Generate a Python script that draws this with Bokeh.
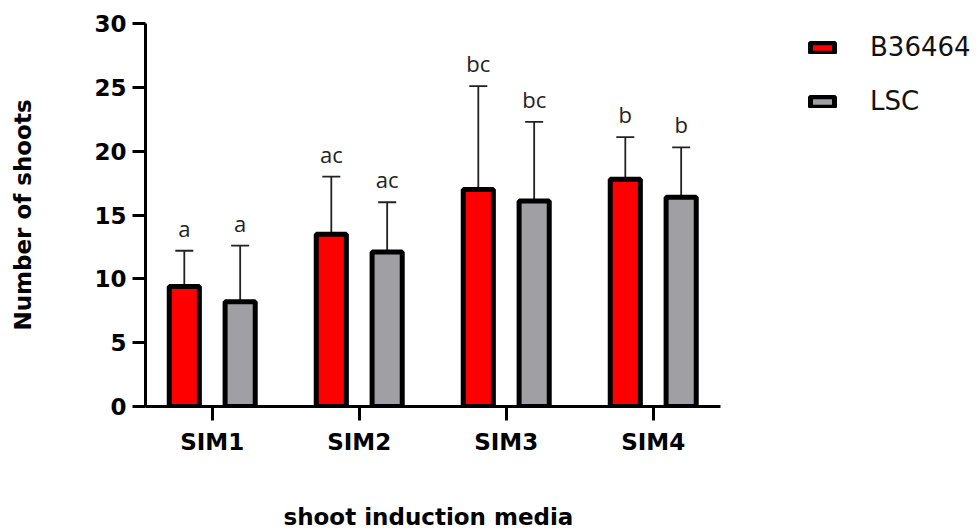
from bokeh.plotting import figure
from bokeh.models import (ColumnDataSource, Range1d, FixedTicker, Whisker, TeeHead,
                          Legend, LegendItem, Title)
from bokeh.core.properties import value
from bokeh.embed import file_html
from bokeh.resources import INLINE

# ---- data ----
categories = ["SIM1", "SIM2", "SIM3", "SIM4"]
b36464_mean = [9.4, 13.5, 17.0, 17.8]
b36464_sd = [2.8, 4.5, 8.1, 3.3]
lsc_mean = [8.2, 12.1, 16.1, 16.4]
lsc_sd = [4.4, 3.9, 6.2, 3.9]
b36464_letters = ["a", "ac", "bc", "b"]
lsc_letters = ["a", "ac", "bc", "b"]
y_ticks = [0, 5, 10, 15, 20, 25, 30]
x_title = "shoot induction media"
y_title = "Number of shoots"

BOLD = "DejaVu Sans"
off = 0.19
bw = 0.205
pos = list(range(1, len(categories) + 1))

def make_src(means, sds, letters, shift):
    xs = [p_ + shift for p_ in pos]
    return ColumnDataSource(dict(
        x=xs, mean=means, upper=[m + s for m, s in zip(means, sds)], letter=letters))

src_b = make_src(b36464_mean, b36464_sd, b36464_letters, -off)
src_l = make_src(lsc_mean, lsc_sd, lsc_letters, off)

W, H = 980, 531
x_start, x_axis_end = 0.546, 4.458
px_per_unit = 147.0
left, top, bottom_px = 145, 23, 407
x_end = x_start + (W - left) / px_per_unit

p = figure(width=W, height=H, output_backend="svg", toolbar_location=None,
           x_range=Range1d(x_start, x_end), y_range=Range1d(0, 30),
           min_border_left=left, min_border_right=0, min_border_top=top,
           min_border_bottom=H - bottom_px)
p.outline_line_color = None
p.xgrid.grid_line_color = None
p.ygrid.grid_line_color = None
p.background_fill_color = "white"
p.border_fill_color = "white"

for src in (src_b, src_l):
    w = Whisker(base="x", upper="upper", lower="mean", source=src,
                line_color="#222222", line_width=1.8, level="underlay",
                upper_head=TeeHead(size=18, line_color="#222222", line_width=1.8),
                lower_head=None)
    p.add_layout(w)

r_b = p.vbar(x="x", top="mean", width=bw, source=src_b, fill_color="#ff0000",
             line_color="black", line_width=5)
r_l = p.vbar(x="x", top="mean", width=bw, source=src_l, fill_color="#a0a0a4",
             line_color="black", line_width=5)

for src in (src_b, src_l):
    p.text(x="x", y="upper", text="letter", source=src, y_offset=-23,
           text_align="center", text_baseline="alphabetic",
           text_font=value("Open Sans"), text_font_size="22px", text_color="#222222")

# axes
xa = p.xaxis[0]
xa.bounds = (x_start, x_axis_end)
xa.ticker = FixedTicker(ticks=pos)
xa.major_label_overrides = {i + 1: c for i, c in enumerate(categories)}
xa.axis_line_width = 3
xa.major_tick_line_width = 3
xa.major_tick_out = 14
xa.major_tick_in = 0
xa.minor_tick_line_color = None
xa.major_label_standoff = 8
xa.major_label_text_font = BOLD
xa.major_label_text_font_style = "bold"
xa.major_label_text_font_size = "23px"
xa.major_label_text_color = "black"
# blank axis label only reserves space; the visible title is placed below it
xa.axis_label = " "
xa.axis_label_text_font_size = "23px"
xa.axis_label_standoff = 17

xt = Title(text=x_title, align="left", offset=138, standoff=0,
           vertical_align="top",
           text_font=BOLD, text_font_style="bold", text_font_size="23px",
           text_color="black")
p.add_layout(xt, "below")

ya = p.yaxis[0]
ya.ticker = FixedTicker(ticks=y_ticks)
ya.axis_line_width = 3
ya.major_tick_line_width = 3
ya.major_tick_out = 13
ya.major_tick_in = 0
ya.minor_tick_line_color = None
ya.major_label_standoff = 6
ya.major_label_text_font = BOLD
ya.major_label_text_font_style = "bold"
ya.major_label_text_font_size = "23px"
ya.major_label_text_color = "black"
ya.axis_label = y_title
ya.axis_label_text_font = BOLD
ya.axis_label_text_font_style = "bold"
ya.axis_label_text_font_size = "23px"
ya.axis_label_text_color = "black"
ya.axis_label_standoff = 55

legend = Legend(items=[LegendItem(label="B36464", renderers=[r_b]),
                       LegendItem(label="LSC", renderers=[r_l])],
                location=(662, 290), orientation="vertical",
                glyph_width=30, glyph_height=13, label_standoff=33, spacing=24,
                padding=0, margin=0, border_line_color=None,
                background_fill_alpha=0,
                label_text_font="DejaVu Sans", label_text_font_size="26px",
                label_text_color="#111111")
p.add_layout(legend, "center")

open("out.html", "w").write(file_html(p, INLINE))
